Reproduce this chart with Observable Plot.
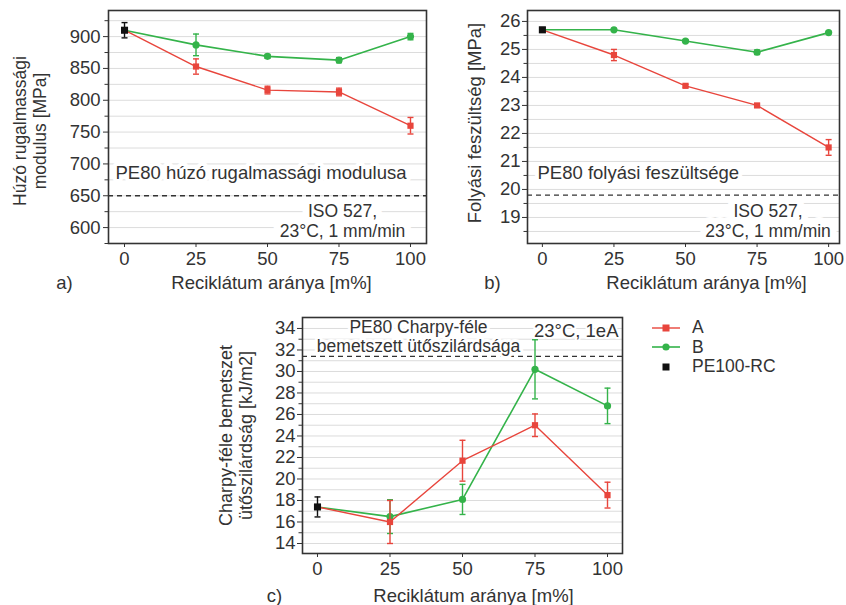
<!DOCTYPE html>
<html><head><meta charset="utf-8">
<script src="https://cdn.jsdelivr.net/npm/d3@7"></script>
<script src="https://cdn.jsdelivr.net/npm/@observablehq/plot@0.6"></script>
<style>
body{margin:0;background:#fff;}
#fig{position:relative;width:846px;height:605px;overflow:hidden;font-family:"Liberation Sans",Arial,sans-serif;color:#333;}
.panel{position:absolute;}
#legend{position:absolute;left:651px;top:318px;font-size:17.5px;color:#333;}
#legend div{display:flex;align-items:center;height:19.5px;}
#legend span{display:block;line-height:19.5px;height:19.5px;}
#legend svg{margin-right:11px;}
</style></head><body><div id="fig"></div>
<script>
// ---- data ----
const recycle = [0, 25, 50, 75, 100];
const xTicks = [0, 25, 50, 75, 100];
const seriesNames = ["A", "B", "PE100-RC"];
const colors = {A: "#e8453c", B: "#34b34a", RC: "#111111"};

// a) tensile modulus [MPa]
const modA = [910, 853, 816, 813, 760];
const modAErr = [12, 12, 6, 6, 13];
const modB = [910, 887, 869, 863, 900];
const modBErr = [12, 17, 3, 4, 5];
const modRC = 910, modRCErr = 12;
const modRef = 650;
const modTicks = [600, 650, 700, 750, 800, 850, 900];
const modGrid = [575, 600, 625, 650, 675, 700, 725, 750, 775, 800, 825, 850, 875, 900, 925];

// b) yield stress [MPa]
const ysA = [25.7, 24.8, 23.7, 23.0, 21.5];
const ysAErr = [0.08, 0.2, 0.05, 0.05, 0.28];
const ysB = [25.7, 25.7, 25.3, 24.9, 25.6];
const ysBErr = [0.08, 0.05, 0.05, 0.08, 0.04];
const ysRC = 25.7, ysRCErr = 0.08;
const ysRef = 19.8;
const ysTicks = [19, 20, 21, 22, 23, 24, 25, 26];
const ysGrid = [18.5, 19, 19.5, 20, 20.5, 21, 21.5, 22, 22.5, 23, 23.5, 24, 24.5, 25, 25.5, 26];

// c) Charpy notched impact strength [kJ/m2]
const chA = [17.4, 16.0, 21.7, 25.0, 18.5];
const chAErr = [0.93, 2.0, 1.9, 1.05, 1.2];
const chB = [17.4, 16.5, 18.1, 30.2, 26.8];
const chBErr = [0.93, 1.57, 1.4, 2.75, 1.65];
const chRC = 17.4, chRCErr = 0.93;
const chRef = 31.4;
const chTicks = [14, 16, 18, 20, 22, 24, 26, 28, 30, 32, 34];
const chGrid = d3.range(14, 35, 1);

const xLabel = "Reciklátum aránya [m%]";

// ---- helpers ----
const cap = {draw(ctx, size) { const r = Math.sqrt(size / Math.PI); ctx.moveTo(-r, 0); ctx.lineTo(r, 0); }};
const font = "'Liberation Sans', Arial, sans-serif";
const FS = 18.5;

function rows(vals, errs) { return recycle.map((x, i) => ({x, y: vals[i], e: errs[i], i})); }

function noteMarks(n) {
  const fs = n.fs ?? FS, lh = n.lh ?? 1;
  return [
    Plot.text([n], {text: "t", ...n.opt, fill: "white", stroke: "white", strokeWidth: n.halo ?? 8, lineHeight: lh, fontSize: fs}),
    Plot.text([n], {text: "t", ...n.opt, fill: "#333", lineHeight: lh, fontSize: fs})
  ];
}

function panel(o) {
  const A = rows(o.A, o.Aerr), B = rows(o.B, o.Berr);
  const RC = [{x: recycle[0], y: o.rc, e: o.rcErr}];
  const Am = A.filter(d => d.i > 0), Bm = B.filter(d => d.i > 0);
  const errMarks = (data, color) => [
    Plot.ruleX(data, {x: "x", y1: d => d.y - d.e, y2: d => d.y + d.e, stroke: color, strokeWidth: 1.4}),
    Plot.dot(data, {x: "x", y: d => d.y + d.e, symbol: cap, r: 3, stroke: color, strokeWidth: 1.4}),
    Plot.dot(data, {x: "x", y: d => d.y - d.e, symbol: cap, r: 3, stroke: color, strokeWidth: 1.4})
  ];
  return Plot.plot({
    width: o.width, height: o.height,
    marginLeft: o.m[0], marginTop: o.m[1], marginRight: o.m[2], marginBottom: o.m[3],
    style: {fontFamily: font, fontSize: FS + "px", color: "#333", background: "transparent", overflow: "visible"},
    x: {domain: o.xDomain},
    y: {domain: o.yDomain},
    marks: [
      Plot.ruleY(o.grid, {stroke: "#dcdcdc", strokeWidth: 1}),
      Plot.ruleY([o.ref], {stroke: "#333", strokeWidth: 1.3, strokeDasharray: "5,4"}),
      ...o.notes.flatMap(noteMarks),
      Plot.line(B, {x: "x", y: "y", stroke: colors.B, strokeWidth: 1.6}),
      ...errMarks(Bm, colors.B),
      Plot.dot(Bm, {x: "x", y: "y", r: 3.6, fill: colors.B}),
      Plot.line(A, {x: "x", y: "y", stroke: colors.A, strokeWidth: 1.4}),
      ...errMarks(Am, colors.A),
      Plot.dot(Am, {x: "x", y: "y", symbol: "square", r: 3.5, fill: colors.A}),
      ...errMarks(RC, colors.RC),
      Plot.dot(RC, {x: "x", y: "y", symbol: "square", r: 4, fill: colors.RC}),
      Plot.frame({stroke: "#333", strokeWidth: 1.6}),
      Plot.axisX(xTicks, {tickSize: 4, tickPadding: 4, label: null, fontSize: FS, color: "#333"}),
      Plot.axisY(o.ticks, {tickSize: 5, tickPadding: o.tickPad, label: null, fontSize: FS, color: "#333"}),
      Plot.axisY(o.minor, {tickSize: 3.5, tickFormat: () => "", label: null, color: "#333"}),
      Plot.text([o.yLabel], {text: d => d, frameAnchor: "left", rotate: -90, textAnchor: "middle", lineAnchor: "middle", dx: o.yLabelDx, dy: o.yLabelDy ?? 0, lineHeight: o.yLabelLh ?? 1, fontSize: o.yLabelFs ?? FS, fill: "#333"}),
      Plot.text([xLabel], {text: d => d, frameAnchor: "bottom", lineAnchor: "bottom", dx: o.xLabelDx, dy: o.xLabelDy, fontSize: FS, fill: "#333"}),
      Plot.text([o.tag], {text: d => d, frameAnchor: "bottom-left", textAnchor: "middle", lineAnchor: "bottom", dx: o.tagDx, dy: o.xLabelDy, fontSize: FS, fill: "#333"})
    ]
  });
}

const fig = document.getElementById("fig");
function place(svg, left, top) { const d = document.createElement("div"); d.className = "panel"; d.style.left = left + "px"; d.style.top = top + "px"; d.appendChild(svg); fig.appendChild(d); }

// a)
place(panel({
  A: modA, Aerr: modAErr, B: modB, Berr: modBErr, rc: modRC, rcErr: modRCErr, ref: modRef,
  width: 432, height: 300, m: [108, 10, 6, 57],
  xDomain: [-5.6, 105.6], yDomain: [575, 941],
  grid: modGrid, ticks: modTicks, minor: modGrid.filter(v => !modTicks.includes(v)), tickPad: 3,
  yLabel: "Húzó rugalmassági\nmodulus [MPa]", yLabelDx: -79, yLabelDy: 4, yLabelLh: 1.13, yLabelFs: 17.5,
  xLabelDx: 4, xLabelDy: 45, tag: "a)", tagDx: -44,
  notes: [
    {t: "PE80 húzó rugalmassági modulusa", opt: {y: () => modRef, frameAnchor: "left", textAnchor: "start", lineAnchor: "bottom", dx: 7, dy: -17}},
    {t: "ISO 527,\n23°C, 1 mm/min", halo: 14, fs: 17.5, lh: 1.13, opt: {frameAnchor: "bottom-right", textAnchor: "middle", lineAnchor: "bottom", dx: -84, dy: -7}}
  ]
}), 0, 0);

// b)
place(panel({
  A: ysA, Aerr: ysAErr, B: ysB, Berr: ysBErr, rc: ysRC, rcErr: ysRCErr, ref: ysRef,
  width: 416, height: 300, m: [97, 10, 7, 57],
  xDomain: [-5.2, 103.8], yDomain: [18.07, 26.39],
  grid: ysGrid, ticks: ysTicks, minor: ysGrid.filter(v => !ysTicks.includes(v)), tickPad: 2,
  yLabel: "Folyási feszültség [MPa]", yLabelDx: -52, yLabelDy: -4,
  xLabelDx: 23, xLabelDy: 45, tag: "b)", tagDx: -35,
  notes: [
    {t: "PE80 folyási feszültsége", opt: {y: () => ysRef, frameAnchor: "left", textAnchor: "start", lineAnchor: "bottom", dx: 10, dy: -16}},
    {t: "ISO 527,\n23°C, 1 mm/min", halo: 14, fs: 17.5, lh: 1.13, opt: {frameAnchor: "bottom-right", textAnchor: "middle", lineAnchor: "bottom", dx: -71.5, dy: -7}}
  ]
}), 430, 0);

// c)
place(panel({
  A: chA, Aerr: chAErr, B: chB, Berr: chBErr, rc: chRC, rcErr: chRCErr, ref: chRef,
  width: 440, height: 305, m: [102, 17, 18, 52],
  xDomain: [-5.17, 105.17], yDomain: [13.07, 35.02],
  grid: chGrid, ticks: chTicks, minor: chGrid.filter(v => !chTicks.includes(v)), tickPad: 2,
  yLabel: "Charpy-féle bemetszet\nütőszilárdság [kJ/m2]", yLabelDx: -67, yLabelDy: 0, yLabelLh: 1.13, yLabelFs: 18,
  xLabelDx: 11, xLabelDy: 48, tag: "c)", tagDx: -28,
  notes: [
    {t: "PE80 Charpy-féle\nbemetszett ütőszilárdsága", halo: 6, fs: 17.5, lh: 1.13, opt: {y: () => chRef, frameAnchor: "left", textAnchor: "middle", lineAnchor: "bottom", dx: 116, dy: -4}},
    {t: "23°C, 1eA", halo: 4, opt: {frameAnchor: "top-right", textAnchor: "end", lineAnchor: "bottom", dx: -4, dy: 19}}
  ]
}), 200, 300);

// legend
const leg = document.createElement("div");
leg.id = "legend";
const sw = (kind) => {
  if (kind === "A") return `<svg width="30" height="10"><line x1="1" x2="29" y1="5" y2="5" stroke="${colors.A}" stroke-width="1.4"/><rect x="11.5" y="1.5" width="7" height="7" fill="${colors.A}"/></svg>`;
  if (kind === "B") return `<svg width="30" height="10"><line x1="1" x2="29" y1="5" y2="5" stroke="${colors.B}" stroke-width="1.6"/><circle cx="15" cy="5" r="3.6" fill="${colors.B}"/></svg>`;
  return `<svg width="30" height="10"><rect x="11.5" y="1.5" width="7" height="7" fill="${colors.RC}"/></svg>`;
};
leg.innerHTML = seriesNames.map((n, i) => `<div>${sw(["A", "B", "RC"][i])}<span>${n}</span></div>`).join("");
fig.appendChild(leg);
</script>
</body></html>
